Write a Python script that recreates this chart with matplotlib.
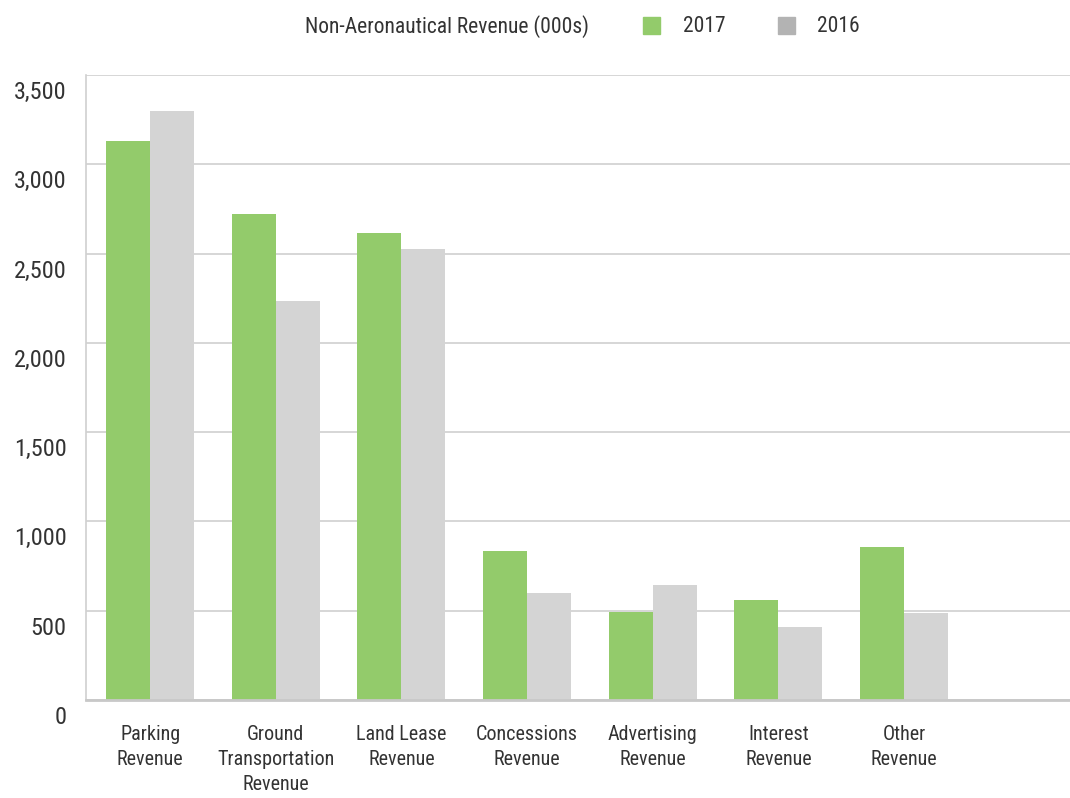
import matplotlib
matplotlib.use("Agg")
import matplotlib.pyplot as plt
import matplotlib.transforms as mtransforms
from matplotlib.patches import Rectangle
from matplotlib import font_manager
import numpy as np

available = {f.name for f in font_manager.fontManager.ttflist}
families = [f for f in ['Roboto Condensed', 'Liberation Sans Narrow', 'Lato'] if f in available]
plt.rcParams['font.family'] = families + ['DejaVu Sans']

categories = ['Parking\nRevenue', 'Ground\nTransportation\nRevenue', 'Land Lease\nRevenue',
              'Concessions\nRevenue', 'Advertising\nRevenue', 'Interest\nRevenue',
              'Other\nRevenue']
rev_2017 = [3130, 2720, 2614, 836, 494, 561, 858]
rev_2016 = [3298, 2232, 2524, 600, 645, 409, 488]
y_ticks = [0, 500, 1000, 1500, 2000, 2500, 3000, 3500]
title = 'Non-Aeronautical Revenue (000s)'

green = '#93cb6b'
gray = '#d4d4d4'
text_color = '#333333'

fig = plt.figure(figsize=(10.7, 7.98), dpi=100)
ax = fig.add_axes([0.0804, 0.1228, 0.9196, 0.7832])

x = np.arange(len(categories))
w = 0.35
ax.bar(x - w / 2, rev_2017, width=w, color=green, zorder=2)
ax.bar(x + w / 2, rev_2016, width=w, color=gray, zorder=2)

ax.set_xlim(-0.51, 7.32)
ax.set_ylim(0, 3500)
ax.set_yticks(y_ticks)
ax.set_yticklabels(['{:,}'.format(v) for v in y_ticks], fontsize=17.5, color=text_color)
ax.set_xticks(x)
ax.set_xticklabels(categories, fontsize=14.5, color=text_color, linespacing=1.4, va='top')
ax.tick_params(axis='both', length=0)
ax.tick_params(axis='x', pad=18)
ax.tick_params(axis='y', pad=14)

# shift y labels slightly below their gridlines
offset = mtransforms.ScaledTranslation(0, -15 / 100, fig.dpi_scale_trans)
for lbl in ax.get_yticklabels():
    lbl.set_transform(lbl.get_transform() + offset)

ax.grid(axis='y', color='#d0d0d0', linewidth=1.2, zorder=0)
for s in ['top', 'right']:
    ax.spines[s].set_visible(False)
ax.spines['left'].set_color('#d0d0d0')
ax.spines['left'].set_linewidth(1.2)
ax.spines['bottom'].set_color('#c8c8c8')
ax.spines['bottom'].set_linewidth(2)
ax.spines['bottom'].set_zorder(3)

# header legend
ty = 1 - 27 / 798
fig.text(305 / 1070, ty, title, fontsize=15.5, color=text_color, va='center', ha='left')
fig.add_artist(Rectangle((643 / 1070, 1 - 34 / 798), 17 / 1070, 17 / 798,
                         transform=fig.transFigure, color=green))
fig.text(683 / 1070, ty, '2017', fontsize=15.5, color=text_color, va='center', ha='left')
fig.add_artist(Rectangle((778 / 1070, 1 - 34 / 798), 17 / 1070, 17 / 798,
                         transform=fig.transFigure, color='#b3b3b3'))
fig.text(817 / 1070, ty, '2016', fontsize=15.5, color=text_color, va='center', ha='left')

fig.savefig('out.png', dpi=100)
